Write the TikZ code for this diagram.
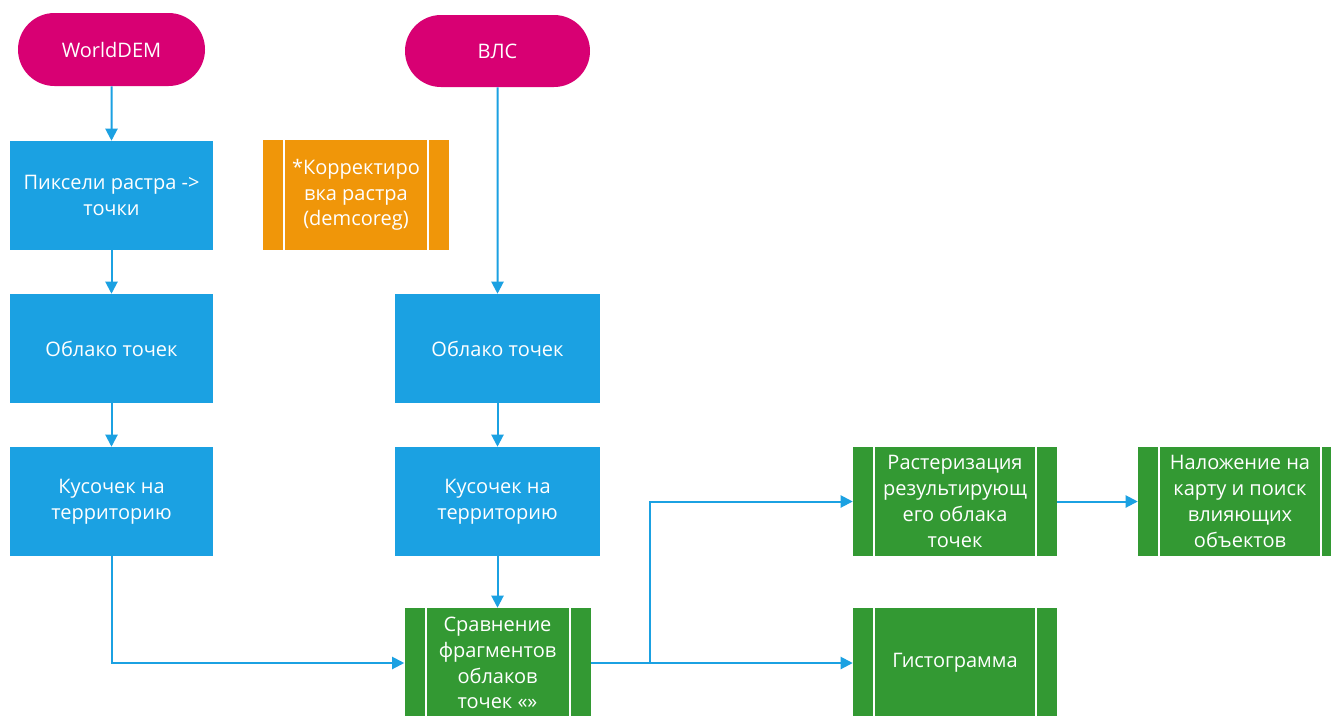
\documentclass[tikz,border=0pt]{standalone}
\usepackage{fontspec}
\setmainfont{Open Sans}
\usetikzlibrary{shapes.misc,arrows.meta}
\definecolor{cyanb}{HTML}{1BA1E2}
\definecolor{magb}{HTML}{D80073}
\definecolor{orab}{HTML}{F09609}
\definecolor{grnb}{HTML}{339933}
\tikzset{
  txt/.style={text=white, align=center, inner sep=0pt, font=\fontsize{15}{19.3}\selectfont},
  term/.style={txt, rounded rectangle, fill=magb},
  blk/.style={txt, rectangle, fill=cyanb},
  proc/.style={txt, rectangle, fill=#1,
    path picture={
      \draw[white, line width=1.5pt]
        ([xshift=15.75pt]path picture bounding box.north west) -- ([xshift=15.75pt]path picture bounding box.south west)
        ([xshift=-15.75pt]path picture bounding box.north east) -- ([xshift=-15.75pt]path picture bounding box.south east);
    }},
  arr/.style={draw=cyanb, line width=1.5pt, -{Triangle[width=9pt,length=9pt]}},
}
\begin{document}
\begin{tikzpicture}[x=0.75pt,y=-0.75pt]
\useasboundingbox (0,0) rectangle (1331,715);
\clip (0,0) rectangle (1331,715);
\fill[white] (0,0) rectangle (1331,715);

\node[term, minimum width=140.25pt, minimum height=54.75pt] (wd) at (111.5,49.5) {WorldDEM};
\node[term, minimum width=138.75pt, minimum height=54pt] (vls) at (497.5,51) {ВЛС};

\node[blk, minimum width=152.25pt, minimum height=81.75pt] (pix) at (111.5,195.5) {Пиксели растра ->\\точки};
\node[proc=orab, minimum width=139.5pt, minimum height=82.5pt] (kor) at (356,195) {*Корректиро\\вка растра\\(demcoreg)};

\node[blk, minimum width=152.25pt, minimum height=81.75pt] (ob1) at (111.5,348.5) {Облако точек};
\node[blk, minimum width=153.75pt, minimum height=81.75pt] (ob2) at (497.5,348.5) {Облако точек};

\node[blk, minimum width=152.25pt, minimum height=81.75pt] (ku1) at (111.5,501.5) {Кусочек на\\территорию};
\node[blk, minimum width=153.75pt, minimum height=81.75pt] (ku2) at (497.5,501.5) {Кусочек на\\территорию};

\node[proc=grnb, minimum width=139.5pt, minimum height=82.5pt] (cmp) at (497.5,663) {Сравнение\\фрагментов\\облаков\\точек «»};
\node[proc=grnb, minimum width=153pt, minimum height=81.75pt] (ras) at (955,501.5) {Растеризация\\результирующ\\его облака\\точек};
\node[proc=grnb, minimum width=153pt, minimum height=81.75pt] (nal) at (1240,501.5) {Наложение на\\карту и поиск\\влияющих\\объектов};
\node[proc=grnb, minimum width=153pt, minimum height=82.5pt] (hist) at (955,663) {Гистограмма};

\draw[arr] (wd) -- (pix);
\draw[arr] (pix) -- (ob1);
\draw[arr] (ob1) -- (ku1);
\draw[arr] (ku1.south) |- (cmp.west);
\draw[arr] (vls) -- (ob2);
\draw[arr] (ob2) -- (ku2);
\draw[arr] (ku2) -- (cmp);
\draw[arr] (cmp.east) -- (hist.west);
\coordinate (j) at (650,663);
\draw[arr] (j) |- (ras.west);
\draw[arr] (ras) -- (nal);
\end{tikzpicture}
\end{document}
